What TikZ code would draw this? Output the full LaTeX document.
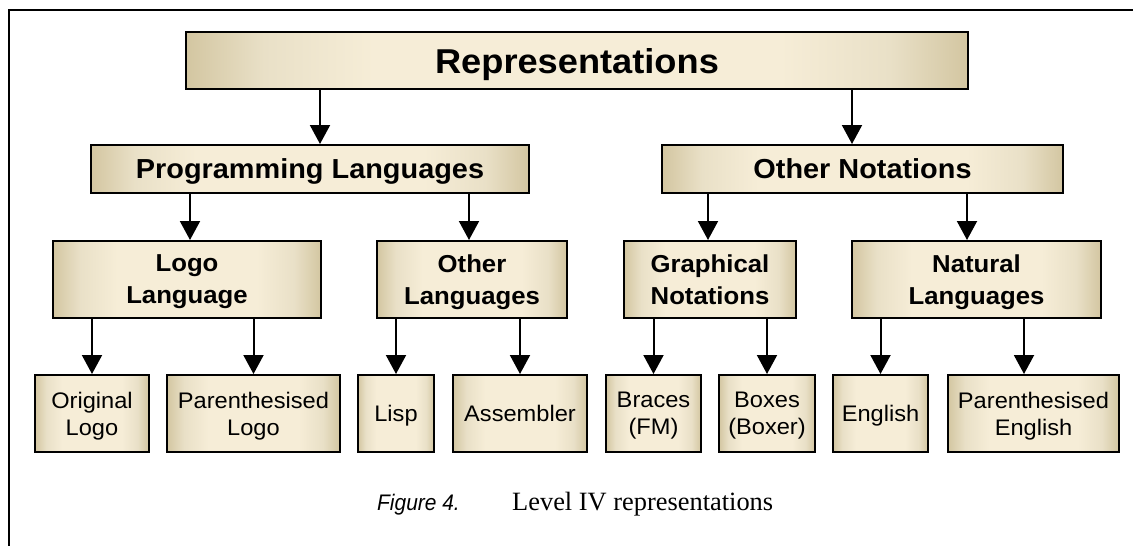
\documentclass[tikz,border=0pt]{standalone}
\usepackage{fontspec}
\usetikzlibrary{arrows.meta}
\newfontfamily\boxfont[FakeStretch=1.05]{Liberation Sans}
\newfontfamily\capsans[FakeStretch=0.93]{Liberation Sans}
\newfontfamily\capserif{Liberation Serif}

\definecolor{tanedge}{RGB}{211,198,161}
\definecolor{tanmid}{RGB}{233,224,199}
\definecolor{tancream}{RGB}{246,237,215}

% darker tan towards the left and right borders, pale cream in the middle
\pgfdeclarehorizontalshading{tanbox}{100bp}{%
  color(0bp)=(tanedge); color(25bp)=(tanedge); color(30bp)=(tanmid);
  color(37bp)=(tancream); color(63bp)=(tancream); color(70bp)=(tanmid);
  color(75bp)=(tanedge); color(100bp)=(tanedge)}

\tikzset{
  box/.style={shading=tanbox, draw=black, line width=2pt, inner sep=0pt,
              align=center, text=black, text depth=0pt},
  toplevel/.style={box, font=\boxfont\bfseries\fontsize{34.5}{40}\selectfont},
  midlevel/.style={box, font=\boxfont\bfseries\fontsize{27.5}{32}\selectfont},
  sublevel/.style={box, font=\boxfont\bfseries\fontsize{24.5}{32}\selectfont},
  leaf/.style={box, font=\boxfont\fontsize{22.5}{27}\selectfont},
  link/.style={line width=2pt, -{Triangle[width=20pt,length=19pt]}},
}

\begin{document}
\begin{tikzpicture}[x=1pt, y=-1pt]
  \useasboundingbox (0,0) rectangle (1133,546);

  % page frame (top and left rules)
  \draw[line width=2pt] (1133,10) -- (9,10) -- (9,546);

  % root
  \node[toplevel, minimum width=782pt, minimum height=57pt] (rep) at (577,60.5) {Representations};

  % second level
  \node[midlevel, minimum width=438pt, minimum height=48pt] (pl) at (310,169) {Programming Languages};
  \node[midlevel, minimum width=401pt, minimum height=48pt] (on) at (862.5,169) {Other Notations};

  % third level
  \node[sublevel, minimum width=268pt, minimum height=77pt] (logo) at (187,279.5) {Logo\\Language};
  \node[sublevel, minimum width=190pt, minimum height=77pt] (ol) at (472,279.5) {Other\\Languages};
  \node[sublevel, minimum width=172pt, minimum height=77pt] (gn) at (710,279.5) {Graphical\\Notations};
  \node[sublevel, minimum width=249pt, minimum height=77pt] (nl) at (976.5,279.5) {Natural\\Languages};

  % leaves
  \node[leaf, minimum width=114pt, minimum height=77pt] (orig) at (92,413.5) {Original\\Logo};
  \node[leaf, minimum width=173pt, minimum height=77pt] (plogo) at (253.5,413.5) {Parenthesised\\Logo};
  \node[leaf, minimum width=76pt, minimum height=77pt] (lisp) at (396,413.5) {Lisp};
  \node[leaf, minimum width=134pt, minimum height=77pt] (asm) at (520,413.5) {Assembler};
  \node[leaf, minimum width=95pt, minimum height=77pt] (braces) at (653.5,413.5) {Braces\\(FM)};
  \node[leaf, minimum width=96pt, minimum height=77pt] (boxes) at (767,413.5) {Boxes\\(Boxer)};
  \node[leaf, minimum width=95pt, minimum height=77pt] (eng) at (880.5,413.5) {English};
  \node[leaf, minimum width=171pt, minimum height=77pt] (peng) at (1033.5,413.5) {Parenthesised\\English};

  % connectors
  \draw[link] ([xshift=10pt]pl.north |- rep.south) -- ([xshift=10pt]pl.north);
  \draw[link] ([xshift=-10.5pt]on.north |- rep.south) -- ([xshift=-10.5pt]on.north);

  \draw[link] ([xshift=3pt]logo.north |- pl.south) -- ([xshift=3pt]logo.north);
  \draw[link] ([xshift=-3pt]ol.north |- pl.south) -- ([xshift=-3pt]ol.north);
  \draw[link] ([xshift=-2pt]gn.north |- on.south) -- ([xshift=-2pt]gn.north);
  \draw[link] ([xshift=-9.5pt]nl.north |- on.south) -- ([xshift=-9.5pt]nl.north);

  \draw[link] (orig.north |- logo.south) -- (orig.north);
  \draw[link] (plogo.north |- logo.south) -- (plogo.north);
  \draw[link] (lisp.north |- ol.south) -- (lisp.north);
  \draw[link] (asm.north |- ol.south) -- (asm.north);
  \draw[link] (braces.north |- gn.south) -- (braces.north);
  \draw[link] (boxes.north |- gn.south) -- (boxes.north);
  \draw[link] (eng.north |- nl.south) -- (eng.north);
  \draw[link] ([xshift=-9.5pt]peng.north |- nl.south) -- ([xshift=-9.5pt]peng.north);

  % caption
  \node[anchor=base west, inner sep=0pt, font=\capsans\itshape\fontsize{22.5}{26}\selectfont] (fig) at (377,510) {Figure 4.};
  \node[anchor=base west, inner sep=0pt, font=\capserif\fontsize{26.4}{30}\selectfont] (cap) at (512,510) {Level IV representations};
\end{tikzpicture}
\end{document}
